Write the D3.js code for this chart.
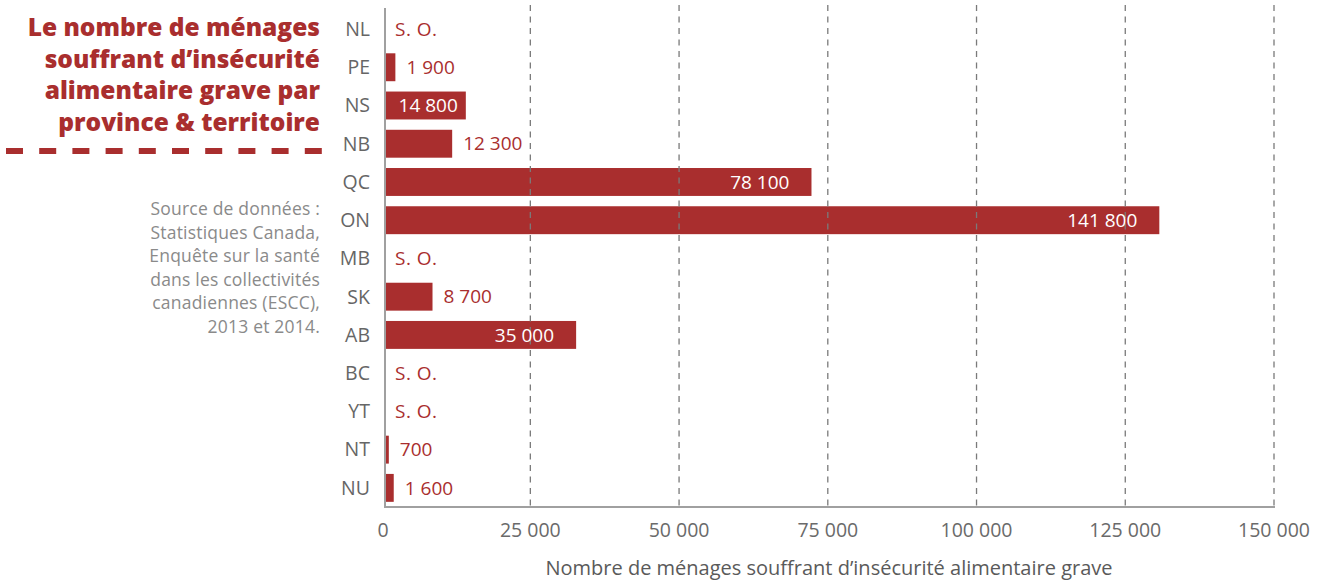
<!DOCTYPE html>
<html><head><meta charset="utf-8">
<script src="https://cdn.jsdelivr.net/npm/d3@7"></script>
<style>
body{margin:0;background:#fff;}
svg{display:block;font-family:"Open Sans",Lato,sans-serif;}
</style></head>
<body><svg id="c" width="1326" height="581"></svg>
<script>
const categories = ["NL","PE","NS","NB","QC","ON","MB","SK","AB","BC","YT","NT","NU"];
const values = [null,1900,14800,12300,78100,141800,null,8700,35000,null,null,700,1600];
const valueLabels = ["S. O.","1 900","14 800","12 300","78 100","141 800","S. O.","8 700","35 000","S. O.","S. O.","700","1 600"];
const tickValues = [0,25000,50000,75000,100000,125000,150000];
const tickLabels = ["0","25 000","50 000","75 000","100 000","125 000","150 000"];
const titleLines = ["Le nombre de ménages","souffrant d\u2019insécurité","alimentaire grave par","province & territoire"];
const sourceLines = ["Source de données :","Statistiques Canada,","Enquête sur la santé","dans les collectivités","canadiennes (ESCC),","2013 et 2014."];
const axisTitle = "Nombre de ménages souffrant d\u2019insécurité alimentaire grave";

const RED = "#a92e2e";
const svg = d3.select("#c");

const y = d3.scaleBand().domain(categories).range([9.9, 507]).paddingInner(0.27).paddingOuter(0.135);
const xAxisScale = d3.scaleLinear().domain([0,150000]).range([381.6,1274]);
const xBar = d3.scaleLinear().domain([0,162800]).range([385,1274]);

// bars
const rows = categories.map((c,i)=>({c, v:values[i], lab:valueLabels[i]}));
svg.append("g").selectAll("rect").data(rows.filter(d=>d.v!=null)).join("rect")
  .attr("x", xBar(0)).attr("y", d=>y(d.c)).attr("height", y.bandwidth())
  .attr("width", d=>xBar(d.v)-xBar(0)).attr("fill", RED);

// gridlines
svg.append("g").selectAll("line").data(tickValues.slice(1)).join("line")
  .attr("x1", d=>xAxisScale(d)).attr("x2", d=>xAxisScale(d))
  .attr("y1", 5).attr("y2", 507)
  .attr("stroke","#7a7a7a").attr("stroke-width",1.3).attr("stroke-dasharray","6,5.5");

// value labels
const lg = svg.append("g").attr("font-size",19);
rows.forEach(d=>{
  const cy = y(d.c)+y.bandwidth()/2;
  if(d.v==null){
    lg.append("text").attr("x", xBar(0)+10).attr("y", cy).attr("dy","0.35em")
      .attr("fill",RED).attr("letter-spacing","0.5").text(d.lab);
  } else if(d.v>14000){
    const t = lg.append("text").attr("y", cy).attr("dy","0.35em").attr("fill","#fff")
      .attr("text-anchor","end").text(d.lab);
    const tw = t.node().getComputedTextLength();
    const w = xBar(d.v)-xBar(0);
    const pad = Math.max(8, Math.min(22, w-tw-16));
    t.attr("x", xBar(d.v)-pad);
  } else {
    lg.append("text").attr("x", xBar(d.v)+11).attr("y", cy).attr("dy","0.35em")
      .attr("fill",RED).text(d.lab);
  }
});

// axes lines
svg.append("line").attr("x1",385).attr("x2",385).attr("y1",8).attr("y2",508)
  .attr("stroke","#a0a0a0").attr("stroke-width",2);
svg.append("line").attr("x1",384).attr("x2",1275).attr("y1",507).attr("y2",507)
  .attr("stroke","#a0a0a0").attr("stroke-width",2);

// category labels
svg.append("g").selectAll("text").data(categories).join("text")
  .attr("x",370).attr("y",d=>y(d)+y.bandwidth()/2).attr("dy","0.35em")
  .attr("text-anchor","end").attr("font-size",19.5).attr("fill","#666").text(d=>d);

// tick labels
svg.append("g").selectAll("text").data(tickValues).join("text")
  .attr("x",d=>xAxisScale(d)+(d===0?1.5:0)).attr("y",537).attr("text-anchor","middle")
  .attr("font-size",19.5).attr("fill","#6a6a6a").text((d,i)=>tickLabels[i]);

// axis title
svg.append("text").attr("x",829).attr("y",575).attr("text-anchor","middle")
  .attr("font-size",20).attr("fill","#5a5a5a").text(axisTitle);

// title
svg.append("g").selectAll("text").data(titleLines).join("text")
  .attr("x",320).attr("y",(d,i)=>36+i*31.7).attr("text-anchor","end")
  .attr("font-size",24.5).attr("font-weight",800).attr("fill",RED).text(d=>d);
svg.append("line").attr("x1",6).attr("x2",322).attr("y1",151).attr("y2",151)
  .attr("stroke",RED).attr("stroke-width",6).attr("stroke-dasharray","17,16.2");

// source
svg.append("g").selectAll("text").data(sourceLines).join("text")
  .attr("x",320).attr("y",(d,i)=>215+i*23.6).attr("text-anchor","end")
  .attr("font-size",17.5).attr("letter-spacing","0.2").attr("fill","#8a8a8a").text(d=>d);
</script></body></html>
